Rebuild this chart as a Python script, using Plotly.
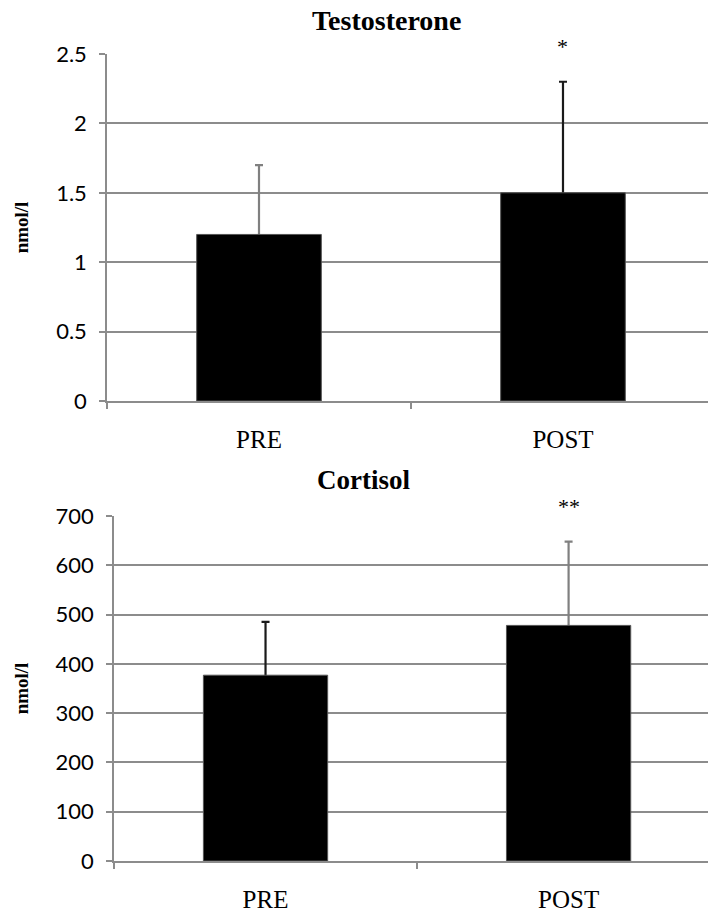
import plotly.graph_objects as go

# Hormone concentrations before and after, mean with upper SD
categories = ["PRE", "POST"]

testo_mean = [1.2, 1.5]
testo_sd = [0.5, 0.8]
testo_err_colors = ["#808080", "#1a1a1a"]

cort_mean = [377, 478]
cort_sd = [108, 170]
cort_err_colors = ["#1a1a1a", "#808080"]

testo_ticks = [0, 0.5, 1, 1.5, 2, 2.5]
testo_tick_text = ["0", "0.5", "1", "1.5", "2", "2.5"]
cort_ticks = [0, 100, 200, 300, 400, 500, 600, 700]

W, H = 708, 915
SERIF = "Liberation Serif"
SANS = "Lato"
GRID = "#8c8c8c"

fig = go.Figure()


def add_panel(means, sds, colors, xa, ya_err, ya_bar):
    # whiskers sit on the base axis; the bars on an overlaid axis cover the lower half
    for cat, m, s, c in zip(categories, means, sds, colors):
        fig.add_trace(go.Scatter(
            x=[cat], y=[m], mode="markers", marker=dict(size=1, opacity=0),
            error_y=dict(type="data", array=[s], symmetric=False, arrayminus=[m],
                         color=c, thickness=2.2, width=4),
            xaxis=xa, yaxis=ya_err, showlegend=False, hoverinfo="skip",
        ))
    fig.add_trace(go.Bar(
        x=categories, y=means, width=0.41,
        marker=dict(color="black", line=dict(color="#555555", width=1)),
        xaxis=xa, yaxis=ya_bar, showlegend=False,
    ))


add_panel(testo_mean, testo_sd, testo_err_colors, "x", "y", "y3")
add_panel(cort_mean, cort_sd, cort_err_colors, "x2", "y2", "y4")


def px_y(p):
    return 1 - p / H


xcommon = dict(
    type="category", categoryorder="array", categoryarray=categories,
    showline=True, linecolor=GRID, linewidth=1.5,
    ticks="outside", tickson="boundaries", ticklen=6, tickcolor=GRID, tickwidth=1.5,
    tickfont=dict(family=SERIF, size=25, color="black"),
    ticklabelstandoff=15, showgrid=False, zeroline=False, automargin=False,
)
ycommon = dict(
    showline=True, linecolor=GRID, linewidth=1.5,
    ticks="outside", ticklen=6, tickcolor=GRID, tickwidth=1.5,
    tickfont=dict(family=SANS, size=22, color="black"),
    ticklabelstandoff=8,
    showgrid=True, gridcolor=GRID, gridwidth=1.5, zeroline=False, automargin=False,
    title=dict(text="<b>nmol/l</b>", font=dict(family=SERIF, size=19, color="black")),
)
overlay = dict(showline=False, showgrid=False, showticklabels=False, ticks="",
               zeroline=False, automargin=False)

top_dom = [px_y(401), px_y(54)]
bot_dom = [px_y(861), px_y(516)]

fig.update_layout(
    width=W, height=H,
    margin=dict(l=0, r=0, t=0, b=0, autoexpand=False),
    paper_bgcolor="white", plot_bgcolor="white",
    xaxis=dict(xcommon, domain=[107 / W, 1], range=[-0.5, 1.477], anchor="y"),
    yaxis=dict(ycommon, domain=top_dom, range=[0, 2.5],
               tickvals=testo_ticks, ticktext=testo_tick_text, anchor="x"),
    yaxis3=dict(overlay, overlaying="y", range=[0, 2.5], anchor="x"),
    xaxis2=dict(xcommon, domain=[114 / W, 1], range=[-0.5, 1.46], anchor="y2"),
    yaxis2=dict(ycommon, domain=bot_dom, range=[0, 700],
                tickvals=cort_ticks, anchor="x2"),
    yaxis4=dict(overlay, overlaying="y2", range=[0, 700], anchor="x2"),
)
fig.layout.yaxis.title.standoff = 22
fig.layout.yaxis2.title.standoff = 22

fig.add_annotation(text="<b>Testosterone</b>", x=386 / W, y=px_y(20), xref="paper", yref="paper",
                   yanchor="middle", showarrow=False,
                   font=dict(family=SERIF, size=28, color="black"))
fig.add_annotation(text="<b>Cortisol</b>", x=363 / W, y=px_y(480), xref="paper", yref="paper",
                   yanchor="middle", showarrow=False,
                   font=dict(family=SERIF, size=27, color="black"))

fig.add_annotation(text="*", x="POST", y=2.5, xref="x", yref="y", yanchor="bottom",
                   yshift=-7, showarrow=False, font=dict(family=SERIF, size=22, color="black"))
fig.add_annotation(text="**", x="POST", y=700, xref="x2", yref="y2", yanchor="bottom",
                   yshift=-5, showarrow=False, font=dict(family=SERIF, size=22, color="black"))

fig.write_html("out.html")
